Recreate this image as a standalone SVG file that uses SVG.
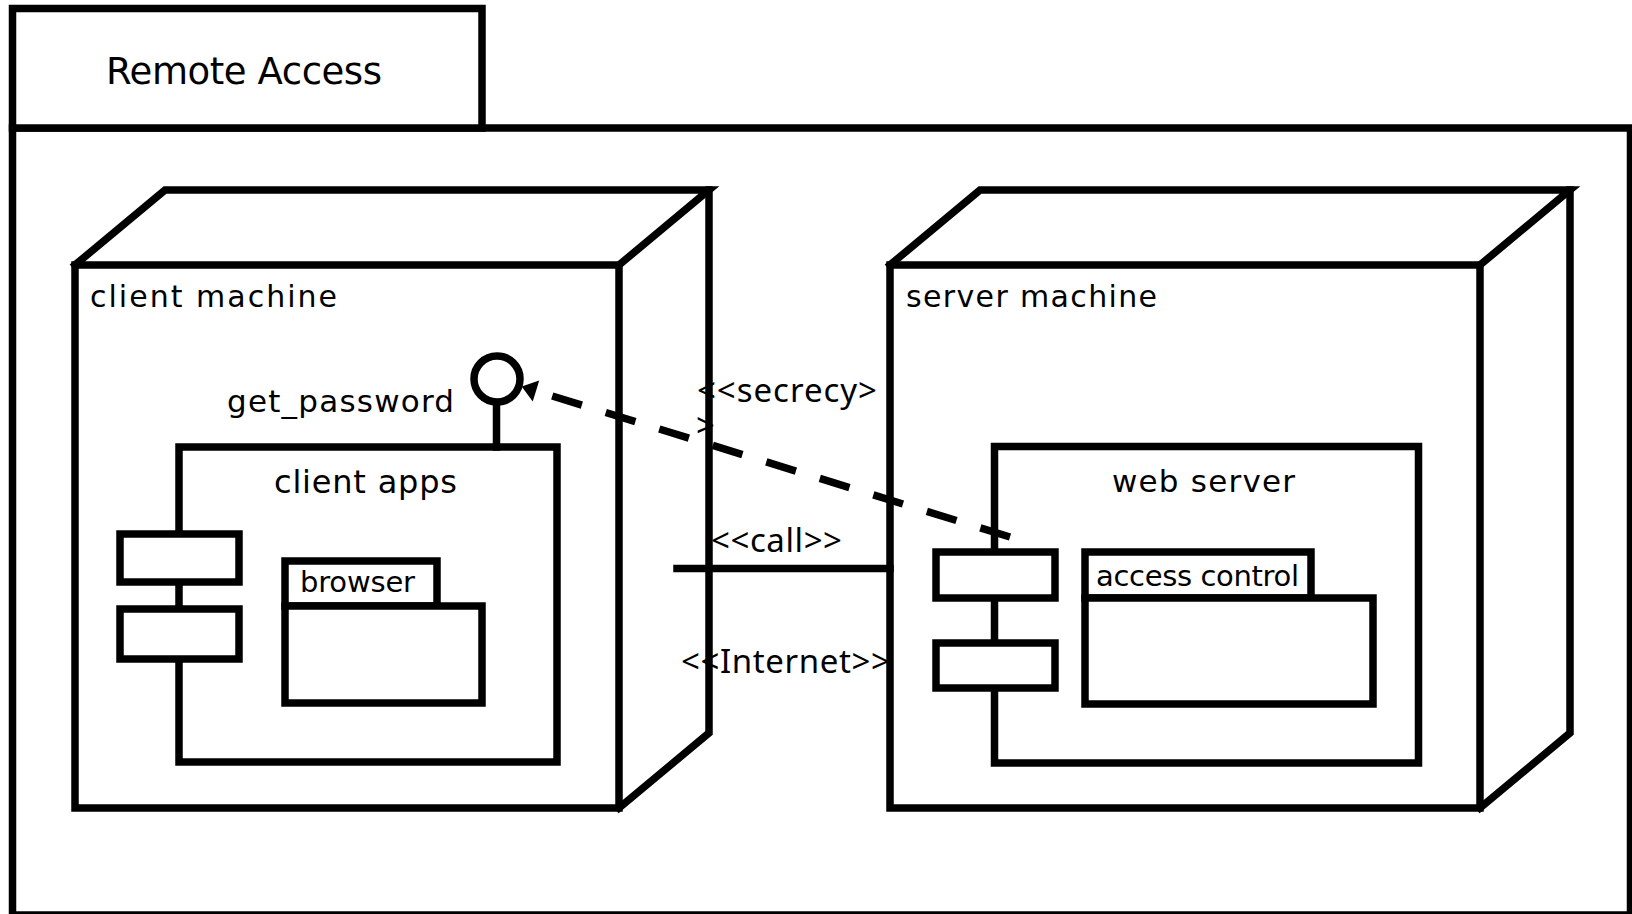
<svg xmlns="http://www.w3.org/2000/svg" width="1632" height="914" viewBox="0 0 1632 914">
<style>
.ln{fill:none;stroke:#000;stroke-width:7.5;stroke-linejoin:miter;stroke-linecap:square}
.bx{fill:#fff;stroke:#000;stroke-width:7.5}
.t{font-family:"DejaVu Sans","Liberation Sans",sans-serif;fill:#000}
.lb{font-family:"Noto Sans","DejaVu Sans",sans-serif;font-size:33px;fill:#000}
.dash{fill:none;stroke:#000;stroke-width:7.5;stroke-dasharray:31 25}
</style>
<defs>
<marker id="arr" markerUnits="userSpaceOnUse" viewBox="0 -12 16 24" refX="0" refY="0" markerWidth="16" markerHeight="24" orient="auto" overflow="visible">
<path d="M0,-11 L15,0 L0,11 z" fill="#000"/>
</marker>
</defs>
<rect width="1632" height="914" fill="#fff"/>
<g id="frame">
<rect class="bx" x="12.5" y="128" width="1618" height="787"/>
<rect class="bx" x="12.5" y="8.5" width="469.5" height="119.5"/>
<text class="t" x="106" y="84" font-size="37" textLength="276">Remote Access</text>
</g>
<g id="client-machine">
<rect class="bx" x="75" y="265" width="544" height="543"/>
<path class="ln" d="M75,265 L165,190 H709 L619,265"/>
<path class="ln" d="M709,190 V733 L619,808"/>
<text class="t" x="90" y="307" font-size="30" textLength="247">client machine</text>
</g>
<g id="client-apps">
<rect class="bx" x="179" y="447" width="378" height="315"/>
<rect class="bx" x="120" y="534" width="119" height="48"/>
<rect class="bx" x="120" y="609" width="119" height="50"/>
<text class="t" x="274" y="493" font-size="32" textLength="183">client apps</text>
</g>
<g id="browser">
<rect class="bx" x="285" y="561" width="152" height="45"/>
<rect class="bx" x="285" y="606" width="197" height="97"/>
<text class="t" x="300" y="592" font-size="29" textLength="115">browser</text>
</g>
<g id="get-password">
<line class="ln" x1="496.5" y1="403" x2="496.5" y2="447" stroke-linecap="butt"/>
<circle class="bx" cx="497" cy="379" r="23"/>
<text class="t" x="227" y="412" font-size="31" textLength="227">get_password</text>
</g>
<g id="server-machine">
<rect class="bx" x="890" y="265" width="590" height="543"/>
<path class="ln" d="M890,265 L980,190 H1570 L1480,265"/>
<path class="ln" d="M1570,190 V733 L1480,808"/>
<text class="t" x="906" y="307" font-size="30" textLength="251">server machine</text>
</g>
<g id="web-server">
<rect class="bx" x="994.5" y="446.5" width="424" height="316.5"/>
<rect class="bx" x="936" y="552" width="119" height="46"/>
<rect class="bx" x="936" y="643" width="119" height="45"/>
<text class="t" x="1112" y="492" font-size="31" textLength="183">web server</text>
</g>
<g id="access-control">
<rect class="bx" x="1085" y="552" width="226" height="46"/>
<rect class="bx" x="1085" y="598" width="288" height="106"/>
<text class="t" x="1096" y="586" font-size="29" textLength="203">access control</text>
</g>
<g id="connectors">
<line class="ln" x1="677" y1="568.5" x2="890" y2="568.5" stroke-linecap="butt"/>
<path class="dash" d="M1010,537 L536,391" marker-end="url(#arr)"/>
<text class="lb" x="697" y="402" textLength="180">&lt;&lt;secrecy&gt;</text>
<text class="lb" x="696" y="437">&gt;</text>
<text class="lb" x="711" y="552" textLength="131">&lt;&lt;call&gt;&gt;</text>
<text class="lb" x="681" y="673" textLength="209">&lt;&lt;Internet&gt;&gt;</text>
</g>
</svg>
